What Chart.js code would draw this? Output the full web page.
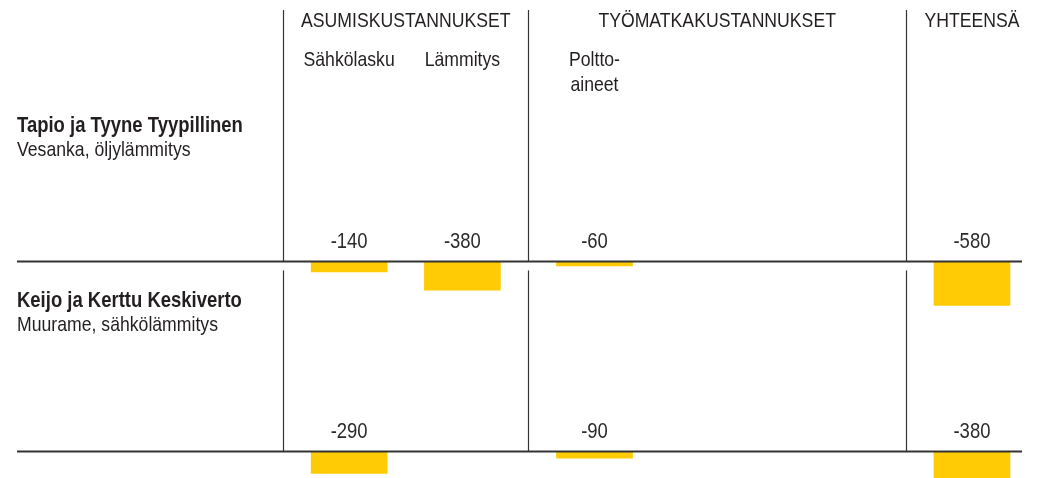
<!DOCTYPE html>
<html lang="fi">
<head>
<meta charset="UTF-8">
<title>Asumis- ja työmatkakustannukset</title>
<script src="https://cdn.jsdelivr.net/npm/chart.js"></script>
<style>
  html, body { margin: 0; background: #fff; }
  #wrap { width: 1038px; height: 478px; position: relative; }
</style>
</head>
<body>
<div id="wrap"><canvas id="costChart"></canvas></div>
<script>
// rivit: kotitaloudet
const households = ['Tapio ja Tyyne Tyypillinen', 'Keijo ja Kerttu Keskiverto'];
const places = ['Vesanka, öljylämmitys', 'Muurame, sähkölämmitys'];

// sarakeryhmät ja kustannuserät
const groups = ['ASUMISKUSTANNUKSET', 'TYÖMATKAKUSTANNUKSET', 'YHTEENSÄ'];
const categories = ['Sähkölasku', 'Lämmitys', 'Poltto-\naineet', 'Yhteensä'];
const categoryGroup = [0, 0, 1, 2];

// muutos, euroa
const tapioValues = [-140, -380, -60, -580];
const keijoValues = [-290, null, -90, -380];

// taulukon asettelu 55 paikan ruudukossa (ei dataa)
const SLOTS = 55;
const groupStart = [15, 28, 48];
const catSlot = [18, 24, 31, 51];

// kapea kirjasin: Liberation Sans puristettuna vaakasuunnassa
const FONT = '"Liberation Sans", Arial, sans-serif';
const NARROW = 0.84;
const YELLOW = '#ffcb05';
const INK = '#231f20';

const labels = Array(SLOTS).fill('');
categories.forEach((c, i) => labels[catSlot[i]] = c);

function toSlots(vals) {
    const out = Array(SLOTS).fill(null);
    vals.forEach((v, i) => out[catSlot[i]] = v);
    return out;
}

function narrowText(ctx, text, x, y, align) {
    ctx.save();
    ctx.translate(x, y);
    ctx.scale(NARROW, 1);
    ctx.textAlign = align;
    ctx.fillText(text, 0, 0);
    ctx.restore();
}

const tablePlugin = {
    id: 'table',
    afterDatasetsDraw(chart) {
        const { ctx, scales } = chart;
        const x = scales.x;
        const rows = [scales.yTop, scales.yBot];
        const edge = i => x.getPixelForValue(i - 0.5);
        const zero = rows.map(s => s.getPixelForValue(0));
        const tops = [10, zero[0] + 9];

        ctx.save();
        ctx.strokeStyle = '#333';
        ctx.lineWidth = 1.2;
        groupStart.forEach(g => {
            const px = Math.round(edge(g)) + 0.5;
            zero.forEach((z, r) => {
                ctx.beginPath();
                ctx.moveTo(px, tops[r]);
                ctx.lineTo(px, z);
                ctx.stroke();
            });
        });
        ctx.lineWidth = 2;
        zero.forEach(z => {
            ctx.beginPath();
            ctx.moveTo(17, z);
            ctx.lineTo(1022, z);
            ctx.stroke();
        });

        ctx.fillStyle = INK;
        ctx.textBaseline = 'alphabetic';

        // ryhmäotsikot
        ctx.font = '21px ' + FONT;
        groups.forEach((g, i) => {
            const end = i + 1 < groupStart.length ? groupStart[i + 1] : SLOTS;
            narrowText(ctx, g, (edge(groupStart[i]) + edge(end)) / 2, 27, 'center');
        });

        // kustannuserät
        categories.forEach((c, i) => {
            if (c.toUpperCase() === groups[categoryGroup[i]]) return;
            const cx = x.getPixelForValue(catSlot[i]);
            c.split('\n').forEach((line, k) => narrowText(ctx, line, cx, 66 + k * 25, 'center'));
        });

        // arvot palkkien yläpuolelle
        ctx.font = '22px ' + FONT;
        ctx.fillStyle = '#2b2b2b';
        chart.data.datasets.forEach((ds, r) => {
            chart.getDatasetMeta(r).data.forEach((el, i) => {
                const v = ds.data[i];
                if (v === null) return;
                narrowText(ctx, String(v), el.x, zero[r] - 13, 'center');
            });
        });

        // kotitaloudet
        ctx.fillStyle = INK;
        const nameY = [132, 307];
        households.forEach((h, r) => {
            ctx.font = 'bold 22px ' + FONT;
            narrowText(ctx, h, 17, nameY[r], 'left');
            ctx.font = '21px ' + FONT;
            narrowText(ctx, places[r], 17, nameY[r] + 24, 'left');
        });
        ctx.restore();
    }
};

const rowScale = { type: 'linear', display: false, position: 'left', stack: 'rows', stackWeight: 1, min: -350, max: 2150 };
const barStyle = { backgroundColor: YELLOW, barThickness: 76, grouped: false, clip: false, borderWidth: 0 };

new Chart(document.getElementById('costChart'), {
    type: 'bar',
    data: {
        labels: labels,
        datasets: [
            Object.assign({ label: households[0], data: toSlots(tapioValues), yAxisID: 'yTop' }, barStyle),
            Object.assign({ label: households[1], data: toSlots(keijoValues), yAxisID: 'yBot' }, barStyle)
        ]
    },
    options: {
        responsive: true,
        maintainAspectRatio: false,
        animation: false,
        events: [],
        layout: { padding: { top: 98, left: 0, right: 0, bottom: 0 } },
        plugins: { legend: { display: false }, tooltip: { enabled: false } },
        scales: {
            x: { type: 'category', display: false, offset: true },
            yBot: Object.assign({}, rowScale),
            yTop: Object.assign({}, rowScale)
        }
    },
    plugins: [tablePlugin]
});
</script>
</body>
</html>
